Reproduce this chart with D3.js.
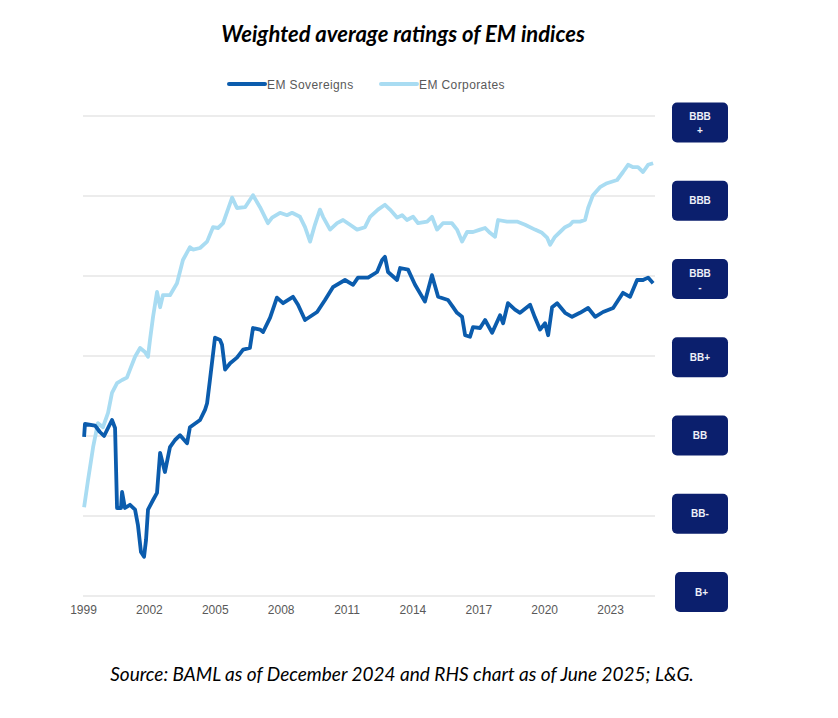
<!DOCTYPE html>
<html>
<head>
<meta charset="utf-8">
<script src="https://cdn.jsdelivr.net/npm/d3@7"></script>
<style>
  html, body { margin: 0; padding: 0; background: #ffffff; }
  svg { display: block; }
</style>
</head>
<body>
<svg id="chart" width="838" height="718"></svg>
<script>
// ---------- DATA ----------
const ratingLabels = ["B+", "BB-", "BB", "BB+", "BBB-", "BBB", "BBB+"]; // notch index 0..6
const ratingBoxLines = [["B+"], ["BB-"], ["BB"], ["BB+"], ["BBB", "-"], ["BBB"], ["BBB", "+"]];
const xTickYears = [1999, 2002, 2005, 2008, 2011, 2014, 2017, 2020, 2023];
const seriesNames = ["EM Sovereigns", "EM Corporates"];

// [decimal year, rating notch (0 = B+ ... 6 = BBB+)]
const sovereigns = [
  [1999.05,1.99],[1999.09,2.15],[1999.55,2.13],[1999.77,2.05],[1999.96,2.00],[2000.14,2.10],
  [2000.32,2.20],[2000.46,2.10],[2000.55,1.10],[2000.73,1.10],[2000.78,1.30],[2000.91,1.10],
  [2001.14,1.14],[2001.37,1.08],[2001.50,0.89],[2001.64,0.55],[2001.78,0.49],[2001.87,0.70],
  [2001.96,1.08],[2002.19,1.20],[2002.37,1.29],[2002.51,1.79],[2002.73,1.55],[2002.96,1.86],
  [2003.19,1.95],[2003.42,2.01],[2003.74,1.91],[2003.87,2.11],[2004.33,2.20],[2004.56,2.33],
  [2004.65,2.41],[2004.78,2.70],[2005.01,3.23],[2005.24,3.20],[2005.33,3.14],[2005.47,2.83],
  [2005.70,2.91],[2006.01,2.98],[2006.29,3.08],[2006.60,3.10],[2006.74,3.35],[2007.06,3.33],
  [2007.20,3.30],[2007.52,3.48],[2007.83,3.73],[2008.11,3.66],[2008.56,3.74],[2008.79,3.64],
  [2009.11,3.45],[2009.66,3.55],[2010.02,3.70],[2010.38,3.86],[2010.93,3.95],[2011.30,3.89],
  [2011.52,3.98],[2011.98,3.98],[2012.39,4.05],[2012.62,4.20],[2012.75,4.24],[2012.89,4.05],
  [2013.30,3.95],[2013.44,4.10],[2013.80,4.08],[2014.12,3.89],[2014.57,3.68],[2014.89,4.01],
  [2015.17,3.74],[2015.62,3.70],[2015.85,3.61],[2016.03,3.54],[2016.26,3.49],[2016.40,3.26],
  [2016.62,3.24],[2016.76,3.36],[2017.08,3.35],[2017.31,3.45],[2017.63,3.29],[2017.99,3.51],
  [2018.13,3.41],[2018.35,3.66],[2018.67,3.58],[2018.90,3.54],[2019.36,3.64],[2019.58,3.48],
  [2019.81,3.33],[2020.04,3.41],[2020.18,3.26],[2020.36,3.61],[2020.59,3.66],[2020.95,3.54],
  [2021.27,3.49],[2021.63,3.54],[2022.00,3.60],[2022.32,3.49],[2022.68,3.55],[2023.14,3.60],
  [2023.59,3.79],[2023.91,3.74],[2024.23,3.95],[2024.50,3.95],[2024.73,3.98],[2024.96,3.91]
];

const corporates = [
  [1999.05,1.11],[1999.23,1.45],[1999.46,1.86],[1999.68,2.16],[1999.91,2.11],[2000.14,2.29],
  [2000.32,2.54],[2000.55,2.66],[2000.78,2.70],[2001.00,2.73],[2001.14,2.83],[2001.37,2.99],
  [2001.60,3.10],[2001.82,3.05],[2001.96,2.99],[2002.05,3.20],[2002.19,3.49],[2002.37,3.80],
  [2002.51,3.61],[2002.64,3.76],[2002.96,3.76],[2003.28,3.91],[2003.55,4.20],[2003.87,4.36],
  [2004.01,4.33],[2004.33,4.35],[2004.65,4.43],[2004.92,4.61],[2005.15,4.60],[2005.38,4.66],
  [2005.79,4.98],[2006.01,4.85],[2006.38,4.86],[2006.74,5.01],[2007.06,4.86],[2007.42,4.66],
  [2007.61,4.73],[2007.97,4.79],[2008.29,4.76],[2008.52,4.79],[2008.88,4.74],[2009.11,4.61],
  [2009.34,4.43],[2009.56,4.64],[2009.79,4.83],[2009.93,4.74],[2010.25,4.58],[2010.57,4.66],
  [2010.84,4.70],[2011.16,4.64],[2011.48,4.58],[2011.84,4.61],[2012.07,4.74],[2012.43,4.83],
  [2012.75,4.89],[2012.98,4.83],[2013.30,4.73],[2013.53,4.76],[2013.75,4.70],[2014.03,4.74],
  [2014.26,4.66],[2014.67,4.68],[2014.89,4.74],[2015.12,4.58],[2015.39,4.66],[2015.80,4.66],
  [2016.03,4.58],[2016.26,4.43],[2016.49,4.55],[2016.76,4.55],[2017.08,4.58],[2017.31,4.60],
  [2017.53,4.54],[2017.76,4.49],[2017.90,4.70],[2018.31,4.68],[2018.76,4.68],[2019.13,4.64],
  [2019.58,4.58],[2019.90,4.54],[2020.13,4.48],[2020.27,4.39],[2020.49,4.49],[2020.72,4.55],
  [2020.95,4.61],[2021.18,4.64],[2021.31,4.68],[2021.63,4.68],[2021.86,4.70],[2022.00,4.85],
  [2022.22,5.01],[2022.54,5.11],[2022.86,5.16],[2023.32,5.20],[2023.59,5.30],[2023.82,5.39],
  [2024.05,5.36],[2024.27,5.36],[2024.50,5.30],[2024.73,5.39],[2024.96,5.41]
];

// ---------- LAYOUT ----------
const svg = d3.select("#chart");
const plotLeft = 83, plotRight = 655;
const x = d3.scaleLinear().domain([1999, 2025]).range([83, 654]);
const y = d3.scaleLinear().domain([0, 6]).range([596, 116]);
const yBox = d3.scaleLinear().domain([0, 6]).range([592, 122.5]);

const sovColor = "#0b5cad";
const corpColor = "#a9dcf2";
const gridColor = "#d9d9d9";
const textGrey = "#595959";
const boxColor = "#0b1f6d";

// Title
svg.append("text")
  .attr("x", 403).attr("y", 42)
  .attr("text-anchor", "middle")
  .attr("font-family", "Lato, 'Open Sans', sans-serif")
  .attr("font-style", "italic").attr("font-weight", "bold")
  .attr("font-size", 22).attr("fill", "#000")
  .text("Weighted average ratings of EM indices");

// Legend
const legend = svg.append("g").attr("font-family", "'Liberation Sans', Arial, sans-serif")
  .attr("font-size", 12).attr("fill", textGrey);
const legendItems = [
  {name: seriesNames[0], color: sovColor, x0: 229},
  {name: seriesNames[1], color: corpColor, x0: 381}
];
legendItems.forEach(d => {
  legend.append("line").attr("x1", d.x0).attr("x2", d.x0 + 36).attr("y1", 84).attr("y2", 84)
    .attr("stroke", d.color).attr("stroke-width", 4).attr("stroke-linecap", "round");
  legend.append("text").attr("x", d.x0 + 38).attr("y", 88.5).attr("fill", textGrey)
    .attr("letter-spacing", 0.4).text(d.name);
});

// Gridlines
svg.append("g").selectAll("line")
  .data(d3.range(0, 7))
  .join("line")
  .attr("x1", plotLeft).attr("x2", plotRight)
  .attr("y1", d => y(d)).attr("y2", d => y(d))
  .attr("stroke", gridColor).attr("stroke-width", 1);

// X axis
const xAxis = d3.axisBottom(x).tickValues(xTickYears).tickFormat(d3.format("d")).tickSize(0).tickPadding(9);
const gx = svg.append("g").attr("transform", `translate(0,${y(0)})`).call(xAxis);
gx.select(".domain").remove();
gx.selectAll("text").attr("font-family", "'Liberation Sans', Arial, sans-serif")
  .attr("font-size", 12).attr("fill", textGrey);

// Lines
const line = d3.line().x(d => x(d[0])).y(d => y(d[1])).curve(d3.curveLinear);
svg.append("path").datum(corporates)
  .attr("d", line).attr("fill", "none").attr("stroke", corpColor)
  .attr("stroke-width", 3.8).attr("stroke-linejoin", "round");
svg.append("path").datum(sovereigns)
  .attr("d", line).attr("fill", "none").attr("stroke", sovColor)
  .attr("stroke-width", 3.8).attr("stroke-linejoin", "round");

// Rating boxes on the right
const boxes = svg.append("g");
ratingLabels.forEach((lab, i) => {
  const cy = yBox(i);
  const w = i === 0 ? 53 : 56, h = 40;
  const g = boxes.append("g").attr("transform", `translate(${728 - w},${cy - h / 2})`);
  g.append("rect").attr("width", w).attr("height", h).attr("rx", 5).attr("ry", 5)
    .attr("fill", boxColor);
  const lines = ratingBoxLines[i];
  lines.forEach((t, j) => {
    const off = lines.length === 1 ? 0 : (j === 0 ? -6 : 8);
    g.append("text").attr("x", w / 2).attr("y", h / 2 + off)
      .attr("text-anchor", "middle").attr("dominant-baseline", "central")
      .attr("font-family", "'Liberation Sans', Arial, sans-serif")
      .attr("font-size", 10).attr("font-weight", "bold").attr("fill", "#eef0f8")
      .text(t);
  });
});

// Source
svg.append("text")
  .attr("x", 402).attr("y", 681)
  .attr("text-anchor", "middle")
  .attr("font-family", "Lato, 'Open Sans', sans-serif")
  .attr("font-style", "italic")
  .attr("font-size", 19).attr("fill", "#000")
  .text("Source: BAML as of December 2024 and RHS chart as of June 2025; L&G.");
</script>
</body>
</html>
